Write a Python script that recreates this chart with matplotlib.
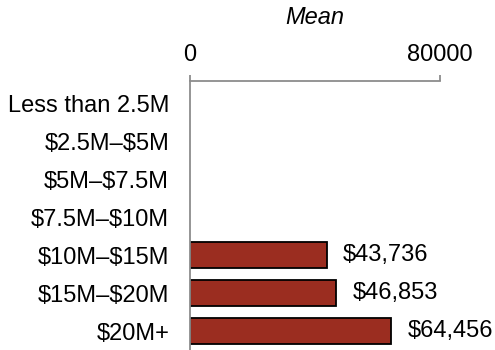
import matplotlib
matplotlib.use("Agg")
import matplotlib.pyplot as plt

plt.rcParams['font.family'] = ['Liberation Sans', 'DejaVu Sans']

# Dollar signs are escaped so they are not read as mathtext
categories = ["Less than 2.5M", "\\$2.5M\u2013\\$5M",
              "\\$5M\u2013\\$7.5M", "\\$7.5M\u2013\\$10M",
              "\\$10M\u2013\\$15M", "\\$15M\u2013\\$20M", "\\$20M+"]
means = [None, None, None, None, 43736, 46853, 64456]
x_ticks = [0, 80000]
x_tick_labels = ["0", "80000"]

fig = plt.figure(figsize=(4.95, 3.5), dpi=100)
ax = fig.add_axes([190 / 495, 0.0, 250 / 495, 1 - 81 / 350])

axis_gray = "#8c8c8c"
fs = 17
for i, v in enumerate(means):
    if v is None:
        continue
    ax.barh(i, v, height=0.7, color="#9b2d20", edgecolor="black", linewidth=1.3)
    ax.text(v + 16 * 80000 / 250, i, f"\\${v:,.0f}", va="center", ha="left", fontsize=fs)

ax.set_xlim(0, 80000)
ax.set_ylim(6.5, -0.58)
ax.set_yticks(range(len(categories)))
ax.set_yticklabels(categories, fontsize=fs)
ax.tick_params(axis="y", length=0, pad=15)

ax.xaxis.tick_top()
ax.set_xticks(x_ticks)
ax.set_xticklabels(x_tick_labels, fontsize=fs)
ax.tick_params(axis="x", length=4, width=1.3, color=axis_gray, pad=6.5, direction="out")
ax.xaxis.set_label_position("top")
ax.set_xlabel("Mean", fontsize=fs, style="italic", labelpad=14.5)

for side in ("right", "bottom"):
    ax.spines[side].set_visible(False)
for side in ("top", "left"):
    ax.spines[side].set_color(axis_gray)
    ax.spines[side].set_linewidth(1.3)

fig.savefig("out.png", dpi=100)
